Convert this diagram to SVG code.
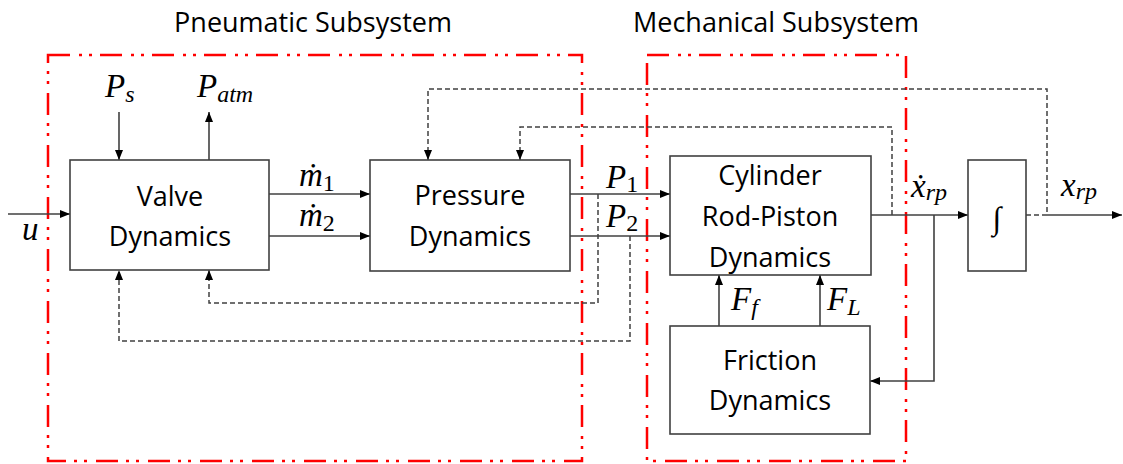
<svg xmlns="http://www.w3.org/2000/svg" width="1123" height="464" viewBox="0 0 1123 464">
<style>
.box{fill:#fff;stroke:#404040;stroke-width:1.6}
.ln{fill:none;stroke:#404040;stroke-width:1.6}
.dl{fill:none;stroke:#404040;stroke-width:1.5;stroke-dasharray:5 3}
.red{fill:none;stroke:#ff0000;stroke-width:2.5;stroke-dasharray:22 9 3 7 3 8}
.t{font-family:"Open Sans","Liberation Sans",sans-serif;font-size:27px;fill:#000;text-anchor:middle}
.h{font-family:"Open Sans","Liberation Sans",sans-serif;font-size:27px;fill:#000;text-anchor:middle}
.m{font-family:"Liberation Serif","DejaVu Serif",serif;font-style:italic;font-size:33px;fill:#000}
.s{font-size:24px}
.n{font-size:24px;font-style:normal}
</style>
<defs>
<marker id="ah" markerUnits="userSpaceOnUse" markerWidth="10" markerHeight="8" refX="10" refY="4" orient="auto">
<path d="M0,0 L10,4 L0,8 z" fill="#000"/>
</marker>
</defs>
<rect width="1123" height="464" fill="#fff"/>
<g id="subsystems">
<rect class="red" x="48" y="55" width="534" height="406"/>
<rect class="red" x="647" y="55" width="259" height="406"/>
<text class="h" x="313" y="32">Pneumatic Subsystem</text>
<text class="h" x="776" y="32">Mechanical Subsystem</text>
</g>
<g id="connectors">
<line class="ln" x1="8" y1="214" x2="70" y2="214" marker-end="url(#ah)"/>
<line class="ln" x1="119" y1="112" x2="119" y2="160" marker-end="url(#ah)"/>
<line class="ln" x1="209" y1="160" x2="209" y2="112" marker-end="url(#ah)"/>
<line class="ln" x1="269" y1="194" x2="370" y2="194" marker-end="url(#ah)"/>
<line class="ln" x1="269" y1="236" x2="370" y2="236" marker-end="url(#ah)"/>
<line class="ln" x1="570" y1="194" x2="670" y2="194" marker-end="url(#ah)"/>
<line class="ln" x1="570" y1="236" x2="670" y2="236" marker-end="url(#ah)"/>
<line class="ln" x1="871" y1="215" x2="968" y2="215" marker-end="url(#ah)"/>
<line class="ln" x1="1047" y1="215" x2="1122" y2="215" marker-end="url(#ah)"/>
<polyline class="ln" points="934,215 934,381 870,381" marker-end="url(#ah)"/>
<line class="ln" x1="719" y1="326" x2="719" y2="275" marker-end="url(#ah)"/>
<line class="ln" x1="820" y1="326" x2="820" y2="275" marker-end="url(#ah)"/>
<polyline class="dl" points="1026,215 1047,215 1047,89 428,89 428,160" marker-end="url(#ah)"/>
<polyline class="dl" points="892,215 892,127 520,127 520,160" marker-end="url(#ah)"/>
<polyline class="dl" points="598,194 598,303 209,303 209,270" marker-end="url(#ah)"/>
<polyline class="dl" points="630,236 630,341 119,341 119,270" marker-end="url(#ah)"/>
</g>
<g id="valve">
<rect class="box" x="70" y="160" width="199" height="110"/>
<text class="t" x="170" y="206">Valve</text>
<text class="t" x="170" y="246">Dynamics</text>
</g>
<g id="pressure">
<rect class="box" x="370" y="160" width="200" height="111"/>
<text class="t" x="470" y="205">Pressure</text>
<text class="t" x="470" y="246">Dynamics</text>
</g>
<g id="cylinder">
<rect class="box" x="670" y="156" width="201" height="119"/>
<text class="t" x="770" y="185">Cylinder</text>
<text class="t" x="770" y="226">Rod-Piston</text>
<text class="t" x="770" y="267">Dynamics</text>
</g>
<g id="friction">
<rect class="box" x="670" y="326" width="200" height="108"/>
<text class="t" x="770" y="370">Friction</text>
<text class="t" x="770" y="410">Dynamics</text>
</g>
<g id="integrator">
<rect class="box" x="968" y="160" width="58" height="111"/>
<text x="997" y="229" font-family="Liberation Serif, DejaVu Serif, serif" font-size="32" text-anchor="middle" fill="#000">∫</text>
</g>
<g id="labels">
<text class="m" x="22" y="240">u</text>
<text class="m" x="105" y="97">P<tspan class="s" dy="5">s</tspan></text>
<text class="m" x="197" y="97">P<tspan class="s" dy="5">atm</tspan></text>
<text class="m" x="299" y="186">ṁ<tspan class="n" dy="5">1</tspan></text>
<text class="m" x="299" y="226">ṁ<tspan class="n" dy="5">2</tspan></text>
<text class="m" x="606" y="188">P<tspan class="n" dy="4">1</tspan></text>
<text class="m" x="606" y="227">P<tspan class="n" dy="4">2</tspan></text>
<text class="m" x="911" y="197">ẋ<tspan class="s" dy="3">rp</tspan></text>
<text class="m" x="1061" y="196">x<tspan class="s" dy="3">rp</tspan></text>
<text class="m" x="731" y="310">F<tspan class="s" dy="5">f</tspan></text>
<text class="m" x="827" y="310">F<tspan class="s" dy="5">L</tspan></text>
</g>
</svg>
